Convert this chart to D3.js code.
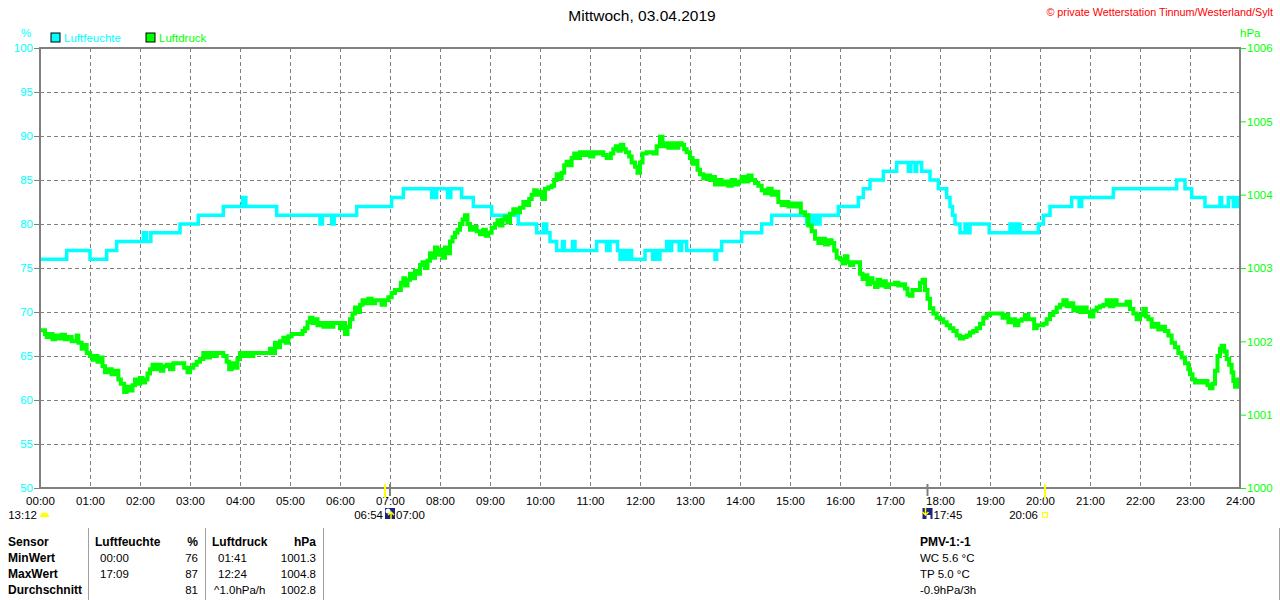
<!DOCTYPE html>
<html><head><meta charset="utf-8">
<script src="https://cdn.jsdelivr.net/npm/d3@7"></script>
<style>
body{margin:0;background:#fff;}
svg{display:block;font-family:"Liberation Sans",Arial,sans-serif;}
</style></head>
<body><svg id="c" width="1280" height="600"></svg>
<script>
// ---- data ----
const hourLabels = ["00:00","01:00","02:00","03:00","04:00","05:00","06:00","07:00","08:00","09:00","10:00","11:00","12:00","13:00","14:00","15:00","16:00","17:00","18:00","19:00","20:00","21:00","22:00","23:00","24:00"];
const humTicks = [50,55,60,65,70,75,80,85,90,95,100];
const presTicks = [1000,1001,1002,1003,1004,1005,1006];

const humidity = [
["00:00",76],["00:32",77],["01:00",76],["01:20",77],["01:32",78],["02:04",79],["02:08",78],["02:13",79],["02:48",80],["03:10",81],["03:40",82],["04:03",83],["04:07",82],["04:44",81],["05:36",80],["05:39",81],["05:50",80],["05:53",81],["06:20",82],["07:02",83],["07:16",84],["07:50",83],["07:52",84],["07:54",83],["07:56",84],["08:09",83],["08:13",84],["08:26",83],["08:40",82],["09:02",81],["09:34",80],["09:56",79],["10:04",80],["10:08",79],["10:12",78],["10:20",77],["10:27",78],["10:29",77],["10:39",78],["10:42",77],["11:08",78],["11:20",77],["11:24",78],["11:33",77],["11:36",76],["11:40",77],["11:43",76],["11:46",77],["11:50",76],["12:06",77],["12:15",76],["12:19",77],["12:22",76],["12:24",77],["12:32",78],["12:35",77],["12:38",78],["12:47",77],["12:50",78],["12:56",77],["13:30",76],["13:32",77],["13:38",78],["14:02",79],["14:26",80],["14:38",81],["15:20",80],["15:23",81],["15:26",80],["15:30",81],["15:33",80],["15:36",81],["15:58",82],["16:22",83],["16:28",84],["16:36",85],["16:52",86],["17:08",87],["17:22",86],["17:25",87],["17:30",86],["17:32",87],["17:38",86],["17:48",85],["17:58",84],["18:08",83],["18:12",82],["18:15",81],["18:18",80],["18:24",79],["18:30",80],["18:32",79],["18:36",80],["18:59",79],["19:24",80],["19:28",79],["19:32",80],["19:36",79],["19:58",80],["20:04",81],["20:12",82],["20:38",83],["20:47",82],["20:50",83],["21:28",84],["22:44",85],["22:54",84],["23:02",83],["23:18",82],["23:36",83],["23:38",82],["23:46",83],["23:52",82],["23:56",83],["23:58",82],["24:00",82]
];

const pressure = [
["00:00",1002.15],["00:06",1002.10],["00:08",1002.06],["00:12",1002.10],["00:15",1002.03],["00:18",1002.08],["00:22",1002.04],["00:26",1002.09],["00:30",1002.03],["00:33",1002.06],["00:38",1002.00],["00:42",1002.00],["00:44",1002.08],["00:46",1001.98],["00:50",1001.90],["00:53",1001.95],["00:56",1001.84],
["01:00",1001.80],["01:03",1001.75],["01:06",1001.80],["01:09",1001.72],["01:12",1001.78],["01:15",1001.66],["01:18",1001.58],["01:22",1001.62],["01:26",1001.55],["01:30",1001.60],["01:34",1001.48],["01:37",1001.42],["01:41",1001.31],["01:44",1001.38],["01:48",1001.33],["01:51",1001.40],["01:54",1001.48],["01:57",1001.42],
["02:00",1001.50],["02:03",1001.44],["02:06",1001.48],["02:09",1001.56],["02:12",1001.62],["02:15",1001.68],["02:18",1001.62],["02:21",1001.68],["02:25",1001.60],["02:28",1001.66],["02:32",1001.68],["02:36",1001.62],["02:40",1001.70],["02:50",1001.70],["02:53",1001.64],["02:57",1001.58],
["03:00",1001.64],["03:04",1001.68],["03:08",1001.72],["03:12",1001.76],["03:16",1001.84],["03:20",1001.78],["03:24",1001.84],["03:28",1001.80],["03:32",1001.84],["03:40",1001.80],["03:44",1001.72],["03:47",1001.62],["03:50",1001.70],["03:54",1001.64],["03:57",1001.76],
["04:00",1001.84],["04:04",1001.80],["04:08",1001.84],["04:12",1001.80],["04:16",1001.84],["04:33",1001.84],["04:36",1001.90],["04:39",1001.84],["04:42",1001.98],["04:45",1001.92],["04:48",1002.00],["04:52",1002.05],["04:55",1001.98],["04:58",1002.07],
["05:02",1002.10],["05:15",1002.14],["05:18",1002.18],["05:21",1002.26],["05:24",1002.32],["05:27",1002.25],["05:30",1002.30],["05:33",1002.22],["05:36",1002.25],["05:40",1002.20],["05:44",1002.25],["05:48",1002.20],["05:52",1002.25],["05:56",1002.25],
["06:00",1002.18],["06:03",1002.25],["06:06",1002.10],["06:09",1002.20],["06:12",1002.30],["06:15",1002.38],["06:18",1002.46],["06:21",1002.40],["06:24",1002.50],["06:27",1002.56],["06:30",1002.52],["06:34",1002.58],["06:38",1002.52],["06:42",1002.56],["06:50",1002.50],["06:54",1002.56],["06:58",1002.60],
["07:02",1002.66],["07:06",1002.70],["07:13",1002.80],["07:16",1002.86],["07:18",1002.76],["07:21",1002.84],["07:24",1002.92],["07:27",1002.86],["07:30",1002.96],["07:33",1002.92],["07:36",1003.04],["07:39",1003.08],["07:42",1003.00],["07:45",1003.10],["07:48",1003.20],["07:51",1003.14],["07:54",1003.28],["07:57",1003.18],
["08:00",1003.25],["08:03",1003.14],["08:06",1003.28],["08:09",1003.20],["08:12",1003.36],["08:15",1003.42],["08:18",1003.48],["08:21",1003.52],["08:24",1003.60],["08:27",1003.66],["08:30",1003.72],["08:33",1003.60],["08:36",1003.52],["08:40",1003.56],["08:44",1003.50],["08:48",1003.46],["08:52",1003.52],["08:55",1003.44],["08:58",1003.48],
["09:02",1003.55],["09:06",1003.60],["09:09",1003.65],["09:12",1003.58],["09:15",1003.66],["09:18",1003.70],["09:21",1003.62],["09:24",1003.74],["09:28",1003.80],["09:32",1003.76],["09:36",1003.82],["09:40",1003.90],["09:44",1003.86],["09:47",1003.94],["09:50",1004.00],["09:53",1004.06],["09:56",1004.00],
["10:00",1004.04],["10:03",1003.94],["10:06",1004.08],["10:10",1004.10],["10:14",1004.12],["10:17",1004.20],["10:20",1004.28],["10:23",1004.22],["10:26",1004.30],["10:29",1004.40],["10:32",1004.45],["10:35",1004.40],["10:38",1004.50],["10:41",1004.56],["10:44",1004.50],["10:48",1004.58],["10:52",1004.54],["10:56",1004.58],
["11:00",1004.52],["11:04",1004.58],["11:08",1004.56],["11:12",1004.58],["11:16",1004.54],["11:20",1004.50],["11:25",1004.56],["11:28",1004.62],["11:31",1004.66],["11:34",1004.60],["11:37",1004.68],["11:40",1004.62],["11:43",1004.58],["11:47",1004.52],["11:50",1004.44],["11:54",1004.38],["11:57",1004.30],
["12:00",1004.44],["12:03",1004.56],["12:08",1004.58],["12:16",1004.56],["12:20",1004.66],["12:24",1004.79],["12:27",1004.66],["12:30",1004.70],["12:34",1004.64],["12:38",1004.70],["12:42",1004.64],["12:46",1004.70],["12:50",1004.68],["12:53",1004.62],["12:56",1004.58],
["13:00",1004.50],["13:03",1004.42],["13:06",1004.46],["13:09",1004.34],["13:12",1004.28],["13:16",1004.22],["13:20",1004.26],["13:24",1004.20],["13:28",1004.24],["13:30",1004.14],["13:34",1004.20],["13:38",1004.14],["13:42",1004.18],["13:46",1004.12],["13:50",1004.20],["13:54",1004.14],["13:58",1004.18],
["14:02",1004.24],["14:06",1004.18],["14:10",1004.26],["14:14",1004.20],["14:18",1004.16],["14:22",1004.12],["14:26",1004.06],["14:30",1004.02],["14:34",1004.08],["14:38",1004.00],["14:42",1004.04],["14:46",1003.90],["14:50",1003.86],["14:54",1003.90],["14:58",1003.84],
["15:02",1003.88],["15:06",1003.84],["15:10",1003.88],["15:13",1003.76],["15:18",1003.72],["15:22",1003.58],["15:26",1003.50],["15:30",1003.40],["15:34",1003.34],["15:38",1003.40],["15:42",1003.32],["15:46",1003.38],["15:50",1003.34],["15:53",1003.24],["15:56",1003.14],
["16:00",1003.12],["16:03",1003.06],["16:06",1003.16],["16:09",1003.08],["16:12",1003.04],["16:16",1003.08],["16:24",1002.92],["16:27",1002.85],["16:30",1002.90],["16:33",1002.78],["16:36",1002.86],["16:39",1002.80],["16:42",1002.74],["16:45",1002.84],["16:48",1002.76],["16:51",1002.82],["16:55",1002.74],["16:58",1002.78],
["17:06",1002.80],["17:10",1002.76],["17:14",1002.78],["17:18",1002.72],["17:21",1002.64],["17:24",1002.62],["17:27",1002.70],["17:36",1002.80],["17:39",1002.84],["17:42",1002.70],["17:45",1002.58],["17:48",1002.45],["17:52",1002.38],["17:56",1002.32],
["18:00",1002.30],["18:04",1002.26],["18:08",1002.22],["18:12",1002.18],["18:16",1002.14],["18:20",1002.08],["18:24",1002.04],["18:28",1002.06],["18:32",1002.08],["18:36",1002.12],["18:40",1002.14],["18:44",1002.18],["18:48",1002.24],["18:52",1002.32],["18:56",1002.36],
["19:00",1002.38],["19:15",1002.32],["19:18",1002.36],["19:22",1002.26],["19:26",1002.30],["19:30",1002.22],["19:34",1002.28],["19:38",1002.30],["19:42",1002.36],["19:46",1002.30],["19:53",1002.18],["19:56",1002.22],
["20:04",1002.24],["20:08",1002.30],["20:12",1002.36],["20:16",1002.40],["20:20",1002.46],["20:24",1002.50],["20:28",1002.56],["20:32",1002.48],["20:36",1002.52],["20:40",1002.42],["20:44",1002.46],["20:48",1002.40],["20:52",1002.46],["20:56",1002.40],
["21:00",1002.34],["21:04",1002.42],["21:08",1002.46],["21:12",1002.48],["21:16",1002.50],["21:20",1002.56],["21:24",1002.48],["21:28",1002.56],["21:32",1002.50],["21:44",1002.54],["21:48",1002.44],["21:52",1002.38],["21:56",1002.30],
["22:00",1002.36],["22:04",1002.44],["22:07",1002.34],["22:10",1002.30],["22:14",1002.20],["22:18",1002.24],["22:22",1002.16],["22:26",1002.20],["22:30",1002.14],["22:34",1002.08],["22:38",1001.98],["22:42",1001.92],["22:46",1001.84],["22:50",1001.78],["22:54",1001.70],["22:58",1001.62],
["23:00",1001.55],["23:03",1001.48],["23:06",1001.44],["23:10",1001.46],["23:14",1001.44],["23:18",1001.46],["23:21",1001.40],["23:24",1001.36],["23:27",1001.42],["23:30",1001.60],["23:33",1001.80],["23:36",1001.90],["23:38",1001.94],["23:41",1001.86],["23:44",1001.76],["23:47",1001.68],["23:50",1001.58],["23:52",1001.46],["23:54",1001.38],["23:57",1001.48],["24:00",1001.48]
];

const title = "Mittwoch, 03.04.2019";
const credit = "\u00A9 private Wetterstation Tinnum/Westerland/Sylt";
const tableHeader = ["Sensor","Luftfeuchte","%","Luftdruck","hPa"];
const tableRows = [
  ["MinWert","00:00","76","01:41","1001.3"],
  ["MaxWert","17:09","87","12:24","1004.8"],
  ["Durchschnitt","","81","^1.0hPa/h","1002.8"]
];
const extraInfo = ["PMV-1:-1","WC 5.6 \u00B0C","TP 5.0 \u00B0C","-0.9hPa/3h"];

// ---- drawing ----
const toH = s => { const [h,m] = s.split(":").map(Number); return h + m/60; };
const svg = d3.select("#c");
const L = 40, R = 1240, T = 48, B = 488;
const FS = 11.5;
const x = d3.scaleLinear().domain([0,24]).range([L,R]);
const yL = d3.scaleLinear().domain([50,100]).range([B,T]);
const yR = d3.scaleLinear().domain([1000,1006]).range([B,T]);
const CY = "#00ffff", GR = "#00ff00", GRID = "#808080";

// grid
svg.append("g").selectAll("line").data(humTicks.filter(v=>v>50&&v<100)).join("line")
  .attr("x1",L).attr("x2",R).attr("y1",d=>yL(d)+0.5).attr("y2",d=>yL(d)+0.5)
  .attr("stroke",GRID).attr("stroke-dasharray","4,3");
svg.append("g").selectAll("line").data(d3.range(1,24)).join("line")
  .attr("y1",T).attr("y2",B).attr("x1",d=>x(d)+0.5).attr("x2",d=>x(d)+0.5)
  .attr("stroke",GRID).attr("stroke-dasharray","4,3");

// lines
const lineH = d3.line().x(d=>x(toH(d[0]))).y(d=>yL(d[1])).curve(d3.curveStepAfter);
const lineP = d3.line().x(d=>x(toH(d[0]))).y(d=>yR(d[1])).curve(d3.curveStepAfter);
svg.append("path").datum(humidity).attr("d",lineH).attr("fill","none").attr("stroke",CY).attr("stroke-width",3.5);
svg.append("path").datum(pressure).attr("d",lineP).attr("fill","none").attr("stroke",GR).attr("stroke-width",4);

// frame
svg.append("line").attr("x1",L-1).attr("x2",R+1).attr("y1",T).attr("y2",T).attr("stroke",GRID).attr("stroke-width",2);
svg.append("line").attr("x1",L-1).attr("x2",R+1).attr("y1",B).attr("y2",B).attr("stroke",GRID).attr("stroke-width",2);
svg.append("line").attr("x1",L).attr("x2",L).attr("y1",T).attr("y2",B+1).attr("stroke",GRID).attr("stroke-width",2);
svg.append("line").attr("x1",R).attr("x2",R).attr("y1",T).attr("y2",B+1).attr("stroke",GRID).attr("stroke-width",2);

// axes
const axL = svg.append("g").attr("transform",`translate(${L-1},0)`)
  .call(d3.axisLeft(yL).tickValues(humTicks).tickSize(5).tickPadding(1));
axL.select(".domain").remove();
axL.selectAll("line").attr("stroke",GRID);
axL.selectAll("text").attr("fill",CY).attr("font-size",FS).attr("font-family","Liberation Sans, Arial");

const axR = svg.append("g").attr("transform",`translate(${R+1},0)`)
  .call(d3.axisRight(yR).tickValues(presTicks).tickSize(5).tickPadding(1).tickFormat(d3.format("d")));
axR.select(".domain").remove();
axR.selectAll("line").attr("stroke",GR);
axR.selectAll("text").attr("fill",GR).attr("font-size",FS).attr("font-family","Liberation Sans, Arial");

const axB = svg.append("g").attr("transform",`translate(0,${B})`)
  .call(d3.axisBottom(x).tickValues(d3.range(0,25)).tickSize(0).tickPadding(9).tickFormat(d=>hourLabels[d]));
axB.select(".domain").remove();
axB.selectAll("text").attr("fill","#000").attr("font-size",FS).attr("font-family","Liberation Sans, Arial");

// unit labels & legend
svg.append("text").attr("x",26).attr("y",37).attr("fill",CY).attr("font-size",FS).attr("text-anchor","middle").text("%");
svg.append("text").attr("x",1240).attr("y",37).attr("fill",GR).attr("font-size",FS).text("hPa");
const legend = [{name:"Luftfeuchte",c:CY,x:51},{name:"Luftdruck",c:GR,x:146}];
legend.forEach(l=>{
  svg.append("rect").attr("x",l.x).attr("y",33).attr("width",9).attr("height",9).attr("fill",l.c).attr("stroke","#000").attr("stroke-width",1);
  svg.append("text").attr("x",l.x+13).attr("y",42).attr("fill",l.c).attr("font-size",FS).text(l.name);
});

svg.append("text").attr("x",642).attr("y",21).attr("text-anchor","middle").attr("font-size",15.5).attr("fill","#000").text(title);
svg.append("text").attr("x",1273).attr("y",16).attr("text-anchor","end").attr("font-size",10.8).attr("fill","#ff0000").text(credit);

// astro markers
const ay = 519;
svg.append("text").attr("x",37).attr("y",ay).attr("text-anchor","end").attr("font-size",FS).text("13:12");
svg.append("path").attr("d",`M${x(0)},517 a4.5,4.5 0 0 1 9,0 z`).attr("fill","#ffff00");
// sunrise 06:54
const xs = x(toH("06:54"));
svg.append("line").attr("x1",xs).attr("x2",xs).attr("y1",B-4).attr("y2",B+10).attr("stroke","#ffff00").attr("stroke-width",2);
svg.append("line").attr("x1",x(7)).attr("x2",x(7)).attr("y1",B-4).attr("y2",B+8).attr("stroke",GRID).attr("stroke-width",2);
svg.append("text").attr("x",xs-2).attr("y",ay).attr("text-anchor","end").attr("font-size",FS).text("06:54");
svg.append("rect").attr("x",xs).attr("y",508).attr("width",10).attr("height",11).attr("fill","#1a237e");
svg.append("circle").attr("cx",xs+3).attr("cy",511).attr("r",2.5).attr("fill","#ffffff");
svg.append("path").attr("d",`M${xs+6},519 l0,-7 m-3,3 l3,-3 l3,3`).attr("stroke","#ffff00").attr("stroke-width",1.5).attr("fill","none");
svg.append("text").attr("x",xs+11).attr("y",ay).attr("font-size",FS).text("07:00");
// 17:45
const xe = x(toH("17:45"));
svg.append("line").attr("x1",xe).attr("x2",xe).attr("y1",B-4).attr("y2",B+8).attr("stroke",GRID).attr("stroke-width",2);
svg.append("rect").attr("x",xe-5).attr("y",508).attr("width",10).attr("height",11).attr("fill","#1a237e");
svg.append("path").attr("d",`M${xe-2},508 l0,7 m-3,-3 l3,3 l3,-3`).attr("stroke","#ffff00").attr("stroke-width",1.5).attr("fill","none");
svg.append("rect").attr("x",xe-1).attr("y",515).attr("width",4).attr("height",4).attr("fill","#ffffff");
svg.append("text").attr("x",xe+6).attr("y",ay).attr("font-size",FS).text("17:45");
// 20:06
const xm = x(toH("20:06"));
svg.append("line").attr("x1",xm).attr("x2",xm).attr("y1",B-4).attr("y2",B+10).attr("stroke","#ffff00").attr("stroke-width",2);
svg.append("text").attr("x",xm-7).attr("y",ay).attr("text-anchor","end").attr("font-size",FS).text("20:06");
svg.append("rect").attr("x",xm-2.5).attr("y",512.5).attr("width",5).attr("height",5).attr("fill","none").attr("stroke","#ffff00").attr("stroke-width",1);

// table
const rowY = [546,562,578,594];
const colX = [{x:8,a:"start"},{x:95,a:"start"},{x:198,a:"end"},{x:212,a:"start"},{x:316,a:"end"}];
tableHeader.forEach((t,i)=>svg.append("text").attr("x",colX[i].x).attr("y",rowY[0]).attr("text-anchor",colX[i].a)
  .attr("font-size",12).attr("font-weight","bold").text(t));
const dataX = [{x:8,a:"start"},{x:100,a:"start"},{x:198,a:"end"},{x:214,a:"start"},{x:316,a:"end"}];
tableRows.forEach((r,j)=>r.forEach((t,i)=>{
  const cell = svg.append("text").attr("x",(i===3 && !t.startsWith("^"))?218:dataX[i].x).attr("y",rowY[j+1]).attr("text-anchor",dataX[i].a)
    .attr("font-size",i===0?12:FS).text(t);
  if(i===0) cell.attr("font-weight","bold");
}));
[88,205,323,1279].forEach(vx=>svg.append("line").attr("x1",vx+0.5).attr("x2",vx+0.5).attr("y1",528).attr("y2",600).attr("stroke","#a0a0a0"));
extraInfo.forEach((t,i)=>svg.append("text").attr("x",920).attr("y",rowY[i]).attr("font-size",i===0?12:FS)
  .attr("font-weight",i===0?"bold":"normal").text(t));
</script></body></html>
